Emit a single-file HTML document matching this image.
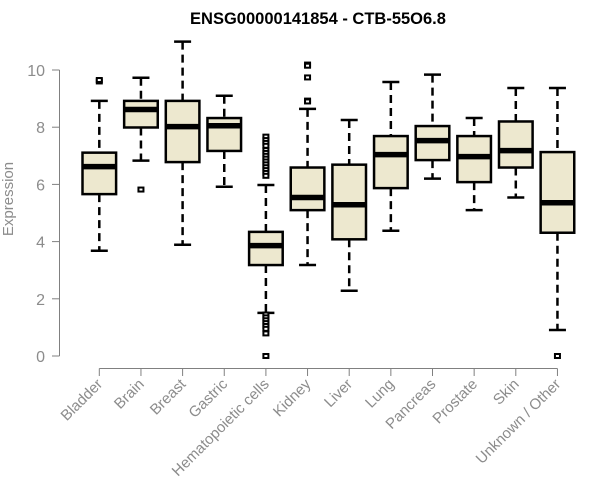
<!DOCTYPE html>
<html><head><meta charset="utf-8"><style>
body{margin:0;background:#fff}
svg{display:block;font-family:"Liberation Sans",Arial,sans-serif}
</style></head><body>
<svg id="chart" width="600" height="500" viewBox="0 0 600 500">
<text x="318" y="24" text-anchor="middle" font-weight="bold" font-size="16.5">ENSG00000141854 - CTB-55O6.8</text>
<text transform="translate(13,199) rotate(-90)" text-anchor="middle" font-size="15" fill="#8c8c8c">Expression</text>
<g id="axes"></g>
<g id="boxes"></g>
</svg>
<script>
const categories=["Bladder","Brain","Breast","Gastric","Hematopoietic cells","Kidney","Liver","Lung","Pancreas","Prostate","Skin","Unknown / Other"];
const whiskerLow=[3.68,6.83,3.89,5.92,1.51,3.18,2.28,4.38,6.2,5.1,5.54,0.91];
const q1=[5.66,7.99,6.78,7.17,3.18,5.1,4.08,5.87,6.85,6.08,6.59,4.31];
const median=[6.62,8.62,8.02,8.05,3.86,5.54,5.29,7.04,7.53,6.97,7.18,5.36];
const q3=[7.11,8.92,8.92,8.32,4.34,6.59,6.69,7.69,8.04,7.69,8.2,7.13];
const whiskerHigh=[8.92,9.73,10.99,9.1,5.98,8.64,8.25,9.58,9.84,8.32,9.37,9.37];
const outliers=[[9.6,9.65],[5.82],[],[],[7.67,7.55,7.45,7.35,7.2,7.1,7.0,6.9,6.8,6.7,6.6,6.5,6.4,6.3,1.45,1.35,1.25,1.15,1.05,0.95,0.79,0],[10.19,10.15,9.74,8.93,8.9],[],[],[],[],[],[0]];
const yTicks=[0,2,4,6,8,10];
const NS="http://www.w3.org/2000/svg";
const y=v=>356-v*28.6;
const x=i=>99.3+41.65*i;
function mk(tag,attrs,parent){const e=document.createElementNS(NS,tag);for(const k in attrs)e.setAttribute(k,attrs[k]);parent.appendChild(e);return e;}
const axes=document.getElementById('axes'),boxes=document.getElementById('boxes');
let a=mk('line',{x1:59.5,x2:59.5,y1:y(10),y2:y(0),stroke:'#808080'},axes);


yTicks.forEach(t=>{
 let l=mk('line',{x1:52,x2:59.5,y1:y(t),y2:y(t),stroke:'#808080'},axes);
 
 
 let tx=mk('text',{x:45,y:y(t)+6,'text-anchor':'end','font-size':16,fill:'#8c8c8c'},axes);
 tx.textContent=t;
 
 
});
let xa=mk('line',{x1:x(0),x2:x(categories.length-1),y1:368.5,y2:368.5,stroke:'#808080'},axes);


categories.forEach((c,i)=>{
 const cx=x(i),hw=16.8,cw=8.5;
 let t=mk('line',{x1:cx,x2:cx,y1:368.5,y2:376,stroke:'#808080'},axes);
 
 
 let lb=mk('text',{transform:`translate(${cx+4},${385}) rotate(-45)`,'text-anchor':'end','font-size':15,fill:'#8c8c8c'},axes);
 lb.textContent=c;
 
 
 const g=mk('g',{},boxes);
 
 
 mk('line',{x1:cx,x2:cx,y1:y(whiskerHigh[i]),y2:y(q3[i]),stroke:'#000','stroke-width':2.5,'stroke-dasharray':'8,5'},g);
 mk('line',{x1:cx,x2:cx,y1:y(q1[i]),y2:y(whiskerLow[i]),stroke:'#000','stroke-width':2.5,'stroke-dasharray':'8,5'},g);
 mk('line',{x1:cx-cw,x2:cx+cw,y1:y(whiskerHigh[i]),y2:y(whiskerHigh[i]),stroke:'#000','stroke-width':2.5},g);
 mk('line',{x1:cx-cw,x2:cx+cw,y1:y(whiskerLow[i]),y2:y(whiskerLow[i]),stroke:'#000','stroke-width':2.5},g);
 mk('rect',{x:cx-hw,y:y(q3[i]),width:2*hw,height:y(q1[i])-y(q3[i]),fill:'#ede8cf',stroke:'#000','stroke-width':2.5},g);
 mk('line',{x1:cx-hw,x2:cx+hw,y1:y(median[i]),y2:y(median[i]),stroke:'#000','stroke-width':5.5},g);
 outliers[i].forEach(o=>{mk('rect',{x:cx-2.5,y:y(o)-2,width:5,height:4,fill:'#fff',stroke:'#000','stroke-width':2},g);});
});
</script>
</body></html>
